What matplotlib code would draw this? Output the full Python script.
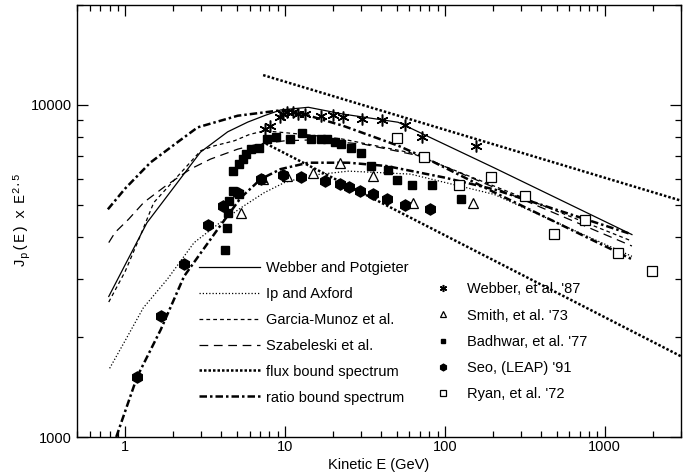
import matplotlib
matplotlib.use("Agg")
import matplotlib.pyplot as plt
from matplotlib.ticker import LogLocator, FixedLocator, FixedFormatter, NullFormatter

plt.rcParams['font.family'] = ['Liberation Sans', 'DejaVu Sans']
plt.rcParams['mathtext.fontset'] = 'custom'
plt.rcParams['mathtext.rm'] = 'Liberation Mono'
plt.rcParams['mathtext.it'] = 'Liberation Mono'

# ---- model curves ----
wp_x = [0.79, 1.0, 1.37, 2.12, 2.96, 4.38, 5.85, 7.5, 9.4, 14, 23, 51, 203, 1480]
wp_y = [2650, 3300, 4420, 5830, 7210, 8300, 8880, 9300, 9660, 9840, 9390, 8870, 6470, 4070]

ia_x = [0.8, 1.0, 1.3, 1.84, 2.7, 3.8, 5.3, 7.4, 10, 15, 25, 61, 203, 1480]
ia_y = [1610, 1950, 2450, 2990, 3850, 4370, 4900, 5440, 5850, 6150, 6320, 6190, 5380, 3500]

gm_x = [0.79, 1.0, 1.24, 1.51, 2.34, 2.97, 3.61, 4.82, 6.0, 7.45, 10, 15, 23, 61, 1480]
gm_y = [2550, 3150, 4020, 5080, 6410, 7280, 7530, 7800, 8150, 8360, 8250, 8100, 7890, 7180, 3890]

sz_x = [0.79, 0.865, 1.05, 1.31, 1.78, 2.56, 3.42, 5.06, 6.76, 10, 15, 31, 70, 1480]
sz_y = [3850, 4130, 4525, 5090, 5690, 6410, 6870, 7360, 7620, 7800, 7850, 7620, 7020, 3760]

flux_hi_x = [7.3, 3000]
flux_hi_y = [12300, 5150]
flux_lo_x = [7.6, 3000]
flux_lo_y = [7650, 1750]

ratio_hi_x = [0.78, 1.0, 1.44, 2.12, 2.84, 5.06, 9.0, 12, 23, 51, 74, 203, 1480]
ratio_hi_y = [4850, 5600, 6710, 7715, 8560, 9280, 9610, 9500, 8660, 7540, 6960, 5460, 3430]
ratio_lo_x = [0.88, 1.19, 1.67, 2.34, 3.79, 5.3, 7.05, 9.4, 14, 24.9, 43, 98.5, 203, 1470]
ratio_lo_y = [1000, 1520, 2105, 3050, 4220, 5260, 5980, 6410, 6700, 6700, 6550, 6050, 5570, 4080]

# ---- data points ----
webber_x = [7.45, 8.01, 9.26, 9.71, 10.3, 11.2, 12.1, 13.3, 16.9, 20.0, 23.2, 30.2, 40.3, 56.6, 72.0, 156]
webber_y = [8460, 8660, 9180, 9390, 9500, 9500, 9390, 9390, 9280, 9350, 9180, 9070, 9010, 8720, 7990, 7530]

smith_x = [5.27, 7.27, 10.3, 15.0, 22.2, 35.4, 63.2, 151]
smith_y = [4730, 6000, 6110, 6260, 6680, 6090, 5050, 5050]

badhwar_x = [4.2, 4.33, 4.38, 4.48, 4.71, 5.19, 4.71, 5.19, 5.44, 5.71, 6.14, 6.86, 7.74, 8.82,
             10.8, 12.7, 14.6, 16.9, 18.2, 20.5, 22.4, 25.9, 29.9, 34.6, 44.4, 50.1, 62.3, 82.5, 125.5]
badhwar_y = [3670, 4270, 4740, 5140, 5510, 5400, 6330, 6630, 6870, 7110, 7360, 7410, 7890, 8020,
             7890, 8210, 7890, 7890, 7890, 7715, 7620, 7410, 7150, 6555, 6370, 5940, 5730, 5730, 5225]

seo_x = [1.19, 1.67, 2.35, 3.28, 4.09, 5.06, 7.10, 9.71, 12.55, 17.7, 22.1, 25.1, 29.5, 35.3, 43.4, 56.4, 81.3]
seo_y = [1520, 2320, 3320, 4340, 4950, 5420, 5975, 6140, 6070, 5910, 5770, 5670, 5500, 5380, 5200, 5005, 4850]

ryan_x = [50.1, 73.8, 122, 194, 317, 485, 748, 1213, 1984]
ryan_y = [7950, 6950, 5740, 6050, 5320, 4100, 4490, 3590, 3160]

xticks = [1, 10, 100, 1000]
xticklabels = ['1', '10', '100', '1000']
yticks = [1000, 10000]
yticklabels = ['1000', '10000']

fig = plt.figure(figsize=(6.85, 4.75), dpi=100)
ax = fig.add_axes([77/685, 1-437/475, 604/685, 432/475])
ax.set_xscale('log')
ax.set_yscale('log')
ax.set_xlim(0.5, 3000)
ax.set_ylim(1000, 20000)

k = 'black'
l_wp, = ax.plot(wp_x, wp_y, color=k, lw=0.9, ls='-')
l_ia, = ax.plot(ia_x, ia_y, color=k, lw=0.9, ls=(0, (1, 1.6)))
l_gm, = ax.plot(gm_x, gm_y, color=k, lw=0.9, ls=(0, (3, 2.5)))
l_sz, = ax.plot(sz_x, sz_y, color=k, lw=0.9, ls=(0, (7, 4.5)))
l_fl, = ax.plot(flux_hi_x, flux_hi_y, color=k, lw=1.8, ls=(0, (1, 0.8)))
ax.plot(flux_lo_x, flux_lo_y, color=k, lw=1.8, ls=(0, (1, 0.8)))
l_ra, = ax.plot(ratio_hi_x, ratio_hi_y, color=k, lw=1.8, ls=(0, (3, 1.2, 1, 1.2)))
ax.plot(ratio_lo_x, ratio_lo_y, color=k, lw=1.8, ls=(0, (3, 1.2, 1, 1.2)))

m_we, = ax.plot(webber_x, webber_y, ls='none', marker=(6, 2, 0), ms=8.5, mew=1.1, color=k)
m_sm, = ax.plot(smith_x, smith_y, ls='none', marker='^', ms=7, mew=0.9, mfc='white', mec=k)
m_ba, = ax.plot(badhwar_x, badhwar_y, ls='none', marker='s', ms=5.5, color=k)
m_se, = ax.plot(seo_x, seo_y, ls='none', marker='h', ms=8, color=k)
m_ry, = ax.plot(ryan_x, ryan_y, ls='none', marker='s', ms=6.5, mew=0.9, mfc='white', mec=k)

ax.xaxis.set_major_locator(FixedLocator(xticks))
ax.xaxis.set_major_formatter(FixedFormatter(xticklabels))
ax.xaxis.set_minor_locator(LogLocator(base=10, subs=range(2, 10)))
ax.xaxis.set_minor_formatter(NullFormatter())
ax.yaxis.set_major_locator(FixedLocator(yticks))
ax.yaxis.set_major_formatter(FixedFormatter(yticklabels))
ax.yaxis.set_minor_locator(LogLocator(base=10, subs=range(2, 10)))
ax.yaxis.set_minor_formatter(NullFormatter())
ax.tick_params(which='both', direction='in', top=True, right=True, labelsize=10.5, width=0.9)
ax.tick_params(which='major', length=8)
ax.tick_params(which='minor', length=4.5)
ax.tick_params(axis='x', which='both', pad=2)
for s in ax.spines.values():
    s.set_linewidth(1.0)

ax.set_xlabel('Kinetic E (GeV)', fontsize=10.5, labelpad=3)
ax.set_ylabel(r'$\mathrm{J_p(E)\ \ x\ \ E^{2.5}}$', fontsize=11)
ax.yaxis.set_label_coords(-0.075, 0.5)

leg1 = ax.legend([l_wp, l_ia, l_gm, l_sz, l_fl, l_ra],
                 ['Webber and Potgieter', 'Ip and Axford', 'Garcia-Munoz et al.',
                  'Szabeleski et al.', 'flux bound spectrum', 'ratio bound spectrum'],
                 loc='upper left', bbox_to_anchor=(0.202, 0.408), frameon=False,
                 fontsize=10.5, handlelength=4.2, handletextpad=0.4, labelspacing=0.82,
                 borderpad=0, borderaxespad=0)
ax.add_artist(leg1)
ax.legend([m_we, m_sm, m_ba, m_se, m_ry],
          ["Webber, et al. '87", "Smith, et al. '73", "Badhwar, et al. '77",
           "Seo, (LEAP) '91", "Ryan, et al. '72"],
          loc='upper left', bbox_to_anchor=(0.594, 0.358), frameon=False,
          fontsize=10.5, handlelength=1.0, handletextpad=1.15, labelspacing=0.84,
          borderpad=0, borderaxespad=0, markerscale=0.6)

fig.savefig('out.png', dpi=100)
